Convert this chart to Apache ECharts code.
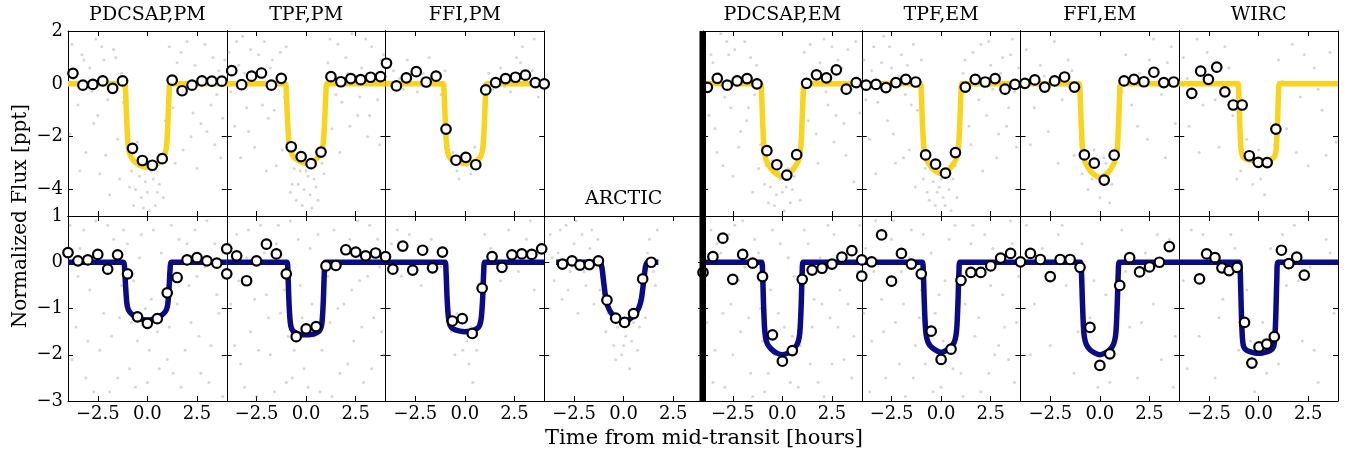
<!DOCTYPE html>
<html><head><meta charset="utf-8">
<script src="https://cdn.jsdelivr.net/npm/echarts@6/dist/echarts.min.js"></script>
<style>html,body{margin:0;padding:0;background:#fff}#c{width:1346px;height:456px}</style>
</head><body><div id="c"></div>
<script>
// ---------- tick labels / titles ----------
const xTicks = [-2.5, 0, 2.5];
const yTicksTop = [-4, -2, 0, 2];
const yTicksBot = [-3, -2, -1, 0, 1];
const titlesTop = ['PDCSAP,PM', 'TPF,PM', 'FFI,PM', '', 'PDCSAP,EM', 'TPF,EM', 'FFI,EM', 'WIRC'];
const titleArctic = 'ARCTIC';
const xAxisTitle = 'Time from mid-transit [hours]';
const yAxisTitle = 'Normalized Flux [ppt]';

// ---------- binned points (open circles) ----------
const binX_pm16 = [-3.75,-3.25,-2.75,-2.25,-1.75,-1.25,-0.75,-0.25,0.25,0.75,1.25,1.75,2.25,2.75,3.25,3.75];
const binX_ffiPMtop = [-3.95,-3.45,-2.95,-2.45,-1.95,-1.45,-0.95,-0.45,0.05,0.55,1.05,1.55,2.05,2.55,3.05,3.55,4.0];
const binX_em16 = [-3.78,-3.28,-2.78,-2.28,-1.78,-1.28,-0.78,-0.28,0.22,0.72,1.22,1.72,2.22,2.72,3.22,3.72];
const binX_wircTop = [-3.37,-2.92,-2.53,-2.11,-1.70,-1.28,-0.83,-0.47,-0.02,0.43,0.87];
const binX_17 = [-4,-3.5,-3,-2.5,-2,-1.5,-1,-0.5,0,0.5,1,1.5,2,2.5,3,3.5,4];
const binX_ffiPMbot = [-3.63,-3.13,-2.63,-2.13,-1.63,-1.13,-0.63,-0.13,0.37,0.87,1.37,1.87,2.37,2.87,3.37,3.87];
const binX_arctic = [-3.08,-2.60,-2.20,-1.73,-1.27,-0.84,-0.40,0.05,0.50,0.96,1.39];
const binX_ffiEMbot = [-3.5,-3,-2.5,-2,-1.5,-1,-0.5,0,0.5,1,1.5,2,2.5,3,3.5];
const binX_wircBot = [-2.98,-2.62,-2.20,-1.85,-1.49,-1.09,-0.71,-0.34,0.02,0.41,0.79,1.15,1.52,1.92,2.30];

const binY_pdcsapPM_top = [0.40,-0.05,-0.02,0.11,-0.17,0.11,-2.44,-2.90,-3.08,-2.83,0.14,-0.26,-0.05,0.11,0.10,0.10];
const binY_tpfPM_top = [0.50,-0.03,0.29,0.41,-0.05,0.21,-2.38,-2.75,-3.02,-2.58,0.27,0.08,0.20,0.16,0.25,0.27];
const binY_ffiPM_top = [0.78,-0.08,0.23,0.46,0.07,0.29,-1.71,-2.89,-2.78,-3.06,-0.23,0.05,0.20,0.25,0.33,0.05,0.0];
const binY_pdcsapEM_top = [-0.13,0.21,-0.05,0.11,0.20,0.0,-2.53,-3.06,-3.45,-2.68,0.02,0.34,0.23,0.53,-0.20,0.05];
const binY_tpfEM_top = [-0.05,-0.02,-0.14,0.05,0.17,0.07,-2.69,-3.04,-3.38,-2.60,-0.12,0.17,0.07,0.20,-0.20,-0.02];
const binY_ffiEM_top = [0.02,0.15,-0.12,0.11,0.26,-0.12,-2.69,-3.00,-3.64,-2.70,0.11,0.17,0.08,0.44,0.05,0.07];
const binY_wirc_top = [-0.36,0.48,0.17,0.63,-0.30,-0.80,-0.80,-2.72,-2.97,-2.98,-1.71];

const binY_pdcsapPM_bot = [0.21,0.03,0.05,0.17,-0.15,0.16,-0.25,-1.18,-1.32,-1.22,-0.66,-0.33,0.05,0.10,0.03,-0.02,0.29];
const binY_tpfPM_bot = [-0.25,0.14,-0.40,0.03,0.39,0.18,-0.25,-1.61,-1.44,-1.39,-0.08,-0.07,0.27,0.22,0.14,0.20,0.12];
const binY_ffiPM_bot = [-0.15,0.35,-0.17,0.26,-0.12,0.22,-1.27,-1.22,-1.54,-0.56,0.12,-0.11,0.16,0.18,0.17,0.29];
const binY_arctic = [-0.04,0.03,-0.06,-0.05,0.03,-0.82,-1.21,-1.30,-1.11,-0.36,0.00];
const binY_pdcsapEM_bot = [-0.22,0.12,0.52,-0.37,0.17,-0.02,-0.31,-1.57,-2.14,-1.91,-0.37,-0.17,-0.13,-0.04,0.11,0.25,0.05];
const binY_tpfEM_bot = [-0.30,0.01,0.59,-0.41,0.19,-0.04,-0.25,-1.49,-2.10,-1.88,-0.39,-0.22,-0.22,-0.08,0.09,0.19,0.01];
const binY_ffiEM_bot = [0.19,0.06,-0.31,0.06,0.06,-0.11,-1.41,-2.23,-1.98,-0.50,0.10,-0.21,-0.10,0.00,0.34];
const binY_wirc_bot = [-0.36,0.18,0.10,-0.12,-0.18,-0.11,-1.30,-2.18,-1.83,-1.77,-1.61,0.26,-0.03,0.11,-0.28];

// ---------- transit models ----------
const mX_pdcsapPM_top = [-4,-1.15,-1.1,-1.05,-1.0,-0.95,-0.85,-0.7,-0.5,-0.25,0,0.25,0.5,0.7,0.85,0.95,1.0,1.05,1.1,1.15,4];
const mY_pdcsapPM_top = [0,0,-0.3,-1.2,-2.0,-2.45,-2.72,-2.9,-3.03,-3.12,-3.15,-3.12,-3.03,-2.9,-2.72,-2.45,-2.0,-1.2,-0.3,0,0];
const mX_tpfPM_top = [-4,-1.05,-1.0,-0.95,-0.9,-0.85,-0.75,-0.6,-0.4,-0.2,0,0.2,0.4,0.6,0.75,0.85,0.9,0.95,1.0,1.05,4];
const mY_tpfPM_top = [0,0,-0.3,-1.15,-1.9,-2.33,-2.6,-2.78,-2.9,-2.97,-3.0,-2.97,-2.9,-2.78,-2.6,-2.33,-1.9,-1.15,-0.3,0,0];
const mX_ffiPM_top = [-4,-1.1,-1.05,-1.0,-0.95,-0.9,-0.8,-0.6,-0.3,0,0.3,0.6,0.8,0.9,0.95,1.0,1.05,1.1,4];
const mY_ffiPM_top = [0,0,-0.3,-1.2,-2.0,-2.45,-2.75,-2.9,-2.97,-3.0,-2.97,-2.9,-2.75,-2.45,-2.0,-1.2,-0.3,0,0];
const mX_pdcsapEM_top = [-4,-1.1,-1.05,-1.0,-0.95,-0.9,-0.8,-0.6,-0.4,-0.2,0,0.2,0.4,0.6,0.8,0.9,0.95,1.0,1.05,1.1,4];
const mY_pdcsapEM_top = [0,0,-0.35,-1.3,-2.15,-2.6,-2.92,-3.18,-3.35,-3.45,-3.5,-3.45,-3.35,-3.18,-2.92,-2.6,-2.15,-1.3,-0.35,0,0];
const mX_tpfEM_top = [-4,-1.05,-1.0,-0.95,-0.9,-0.85,-0.75,-0.55,-0.35,-0.15,0,0.15,0.35,0.55,0.75,0.85,0.9,0.95,1.0,1.05,4];
const mY_tpfEM_top = [0,0,-0.35,-1.3,-2.1,-2.55,-2.85,-3.1,-3.27,-3.36,-3.4,-3.36,-3.27,-3.1,-2.85,-2.55,-2.1,-1.3,-0.35,0,0];
const mX_ffiEM_top = [-4,-1.05,-1.0,-0.95,-0.9,-0.85,-0.75,-0.55,-0.35,-0.15,0,0.15,0.35,0.55,0.75,0.85,0.9,0.95,1.0,1.05,4];
const mY_ffiEM_top = [0,0,-0.35,-1.35,-2.2,-2.65,-2.95,-3.22,-3.4,-3.5,-3.55,-3.5,-3.4,-3.22,-2.95,-2.65,-2.2,-1.35,-0.35,0,0];
const mX_wirc_top = [-4,-1.05,-1.0,-0.95,-0.9,-0.85,-0.75,-0.5,0,0.5,0.75,0.85,0.9,0.95,1.0,1.05,4];
const mY_wirc_top = [0,0,-0.4,-1.5,-2.3,-2.65,-2.8,-2.88,-2.92,-2.88,-2.8,-2.65,-2.3,-1.5,-0.4,0,0];

const mX_pdcsapPM_bot = [-4,-1.2,-1.15,-1.1,-1.05,-1.0,-0.9,-0.7,-0.45,-0.2,0,0.2,0.45,0.7,0.9,1.0,1.05,1.1,1.15,1.2,4];
const mY_pdcsapPM_bot = [0,0,-0.12,-0.5,-0.82,-0.97,-1.07,-1.15,-1.21,-1.24,-1.25,-1.24,-1.21,-1.15,-1.07,-0.97,-0.82,-0.5,-0.12,0,0];
const mX_tpfPM_bot = [-4,-0.97,-0.92,-0.87,-0.82,-0.77,-0.67,-0.5,-0.3,0,0.3,0.5,0.67,0.77,0.82,0.87,0.92,0.97,4];
const mY_tpfPM_bot = [0,0,-0.2,-0.8,-1.2,-1.38,-1.48,-1.53,-1.56,-1.57,-1.56,-1.53,-1.48,-1.38,-1.2,-0.8,-0.2,0,0];
const mX_ffiPM_bot = [-4,-1.0,-0.95,-0.9,-0.85,-0.8,-0.7,-0.5,-0.25,0,0.25,0.5,0.7,0.8,0.85,0.9,0.95,1.0,4];
const mY_ffiPM_bot = [0,0,-0.2,-0.75,-1.1,-1.28,-1.4,-1.46,-1.49,-1.5,-1.49,-1.46,-1.4,-1.28,-1.1,-0.75,-0.2,0,0];
const mX_arctic = [-3.4,-1.2,-1.1,-1.0,-0.9,-0.8,-0.65,-0.45,-0.2,0,0.2,0.45,0.65,0.8,0.9,1.0,1.1,1.2,1.75];
const mY_arctic = [0,0,-0.1,-0.45,-0.78,-0.95,-1.08,-1.18,-1.26,-1.29,-1.26,-1.18,-1.08,-0.95,-0.78,-0.45,-0.1,0,0];
const mX_pdcsapEM_bot = [-4,-1.05,-1.0,-0.95,-0.9,-0.85,-0.75,-0.55,-0.3,0,0.3,0.55,0.75,0.85,0.9,0.95,1.0,1.05,4];
const mY_pdcsapEM_bot = [0,0,-0.2,-0.9,-1.4,-1.62,-1.77,-1.88,-1.96,-2.0,-1.96,-1.88,-1.77,-1.62,-1.4,-0.9,-0.2,0,0];
const mX_tpfEM_bot = [-4,-0.95,-0.9,-0.85,-0.8,-0.75,-0.65,-0.45,-0.2,0,0.2,0.45,0.65,0.75,0.8,0.85,0.9,0.95,4];
const mY_tpfEM_bot = [0,0,-0.2,-0.85,-1.35,-1.58,-1.74,-1.85,-1.92,-1.95,-1.92,-1.85,-1.74,-1.58,-1.35,-0.85,-0.2,0,0];
const mX_ffiEM_bot = [-4,-0.98,-0.93,-0.88,-0.83,-0.78,-0.68,-0.48,-0.22,0,0.22,0.48,0.68,0.78,0.83,0.88,0.93,0.98,4];
const mY_ffiEM_bot = [0,0,-0.2,-0.85,-1.38,-1.62,-1.78,-1.9,-1.97,-2.0,-1.97,-1.9,-1.78,-1.62,-1.38,-0.85,-0.2,0,0];
const mX_wirc_bot = [-4,-0.97,-0.92,-0.87,-0.82,-0.77,-0.67,-0.45,0,0.45,0.67,0.77,0.82,0.87,0.92,0.97,4];
const mY_wirc_bot = [0,0,-0.3,-1.1,-1.62,-1.8,-1.88,-1.93,-1.97,-1.93,-1.88,-1.8,-1.62,-1.1,-0.3,0,0];

// ---------- faint unbinned points (sparse estimate of the grey cloud) ----------
const bg_pdcsapPM_top = [[-3.8,1.5],[-3.5,-0.8],[-3.3,1.1],[-3.1,-2.6],[-2.9,0.6],[-2.7,-1.5],[-2.6,1.7],[-2.4,-3.4],[-2.2,0.9],[-2.0,-0.6],[-1.9,-4.2],[-1.7,1.3],[-1.5,-2.1],[-1.3,0.4],[-1.1,-1.2],[-0.9,-3.9],[-0.7,-4.6],[-0.5,-2.2],[-0.3,-4.3],[-0.1,-3.7],[0.1,-4.8],[0.3,-3.6],[0.5,-4.1],[0.7,-2.9],[0.9,-1.4],[1.1,1.4],[1.3,-0.9],[1.5,0.8],[1.8,-2.5],[2.0,1.6],[2.3,-1.1],[2.5,-3.2],[2.8,0.3],[3.0,-1.8],[3.3,1.0],[3.5,-0.4],[3.7,-2.8],[3.9,0.9],
  [-3.9,-1.9],[-3.7,0.2],[-3.4,-3.3],[-3.2,0.9],[-2.8,-0.3],[-2.5,-1.2],[-2.3,1.4],[-2.1,-2.7],[-1.8,-0.2],[-1.6,1.0],[-1.4,-3.6],[-1.2,-0.7],[-0.8,-3.3],[-0.6,-4.0],[-0.4,-3.5],[-0.2,-4.7],[0.0,-4.1],[0.2,-3.3],[0.4,-4.6],[0.6,-3.8],[0.8,-4.3],[1.0,-2.2],[1.2,0.3],[1.4,-3.0],[1.7,1.2],[1.9,-0.4],[2.2,-2.0],[2.4,0.7],[2.7,-1.5],[2.9,1.5],[3.2,-0.8],[3.4,-2.3],[3.6,0.5],[3.8,-1.3]];
const bg_tpfPM_top = [[-3.9,1.2],[-3.6,-1.6],[-3.4,0.7],[-3.2,1.8],[-3.0,-0.9],[-2.8,1.3],[-2.6,-2.4],[-2.3,0.5],[-2.1,1.6],[-1.9,-1.3],[-1.7,0.9],[-1.5,-3.1],[-1.3,1.2],[-1.1,-0.5],[-0.9,-2.2],[-0.7,-3.8],[-0.5,-4.4],[-0.3,-3.3],[-0.1,-4.0],[0.1,-3.5],[0.3,-4.7],[0.5,-3.9],[0.7,-2.6],[0.9,-3.4],[1.1,0.8],[1.3,-1.7],[1.6,1.5],[1.8,-0.7],[2.1,0.4],[2.3,1.9],[2.6,-1.2],[2.8,0.6],[3.1,-2.0],[3.3,1.4],[3.6,-0.6],[3.8,0.9],
  [-3.8,-0.3],[-3.5,1.6],[-3.3,-2.8],[-3.1,0.4],[-2.9,-1.8],[-2.7,0.2],[-2.4,1.1],[-2.2,-0.8],[-2.0,-3.3],[-1.8,0.6],[-1.6,-1.0],[-1.4,0.2],[-1.2,-2.5],[-1.0,1.4],[-0.8,-4.1],[-0.6,-3.2],[-0.4,-3.8],[-0.2,-4.6],[0.0,-3.3],[0.2,-4.2],[0.4,-3.6],[0.6,-4.4],[0.8,-3.0],[1.0,-1.1],[1.2,1.7],[1.5,-0.4],[1.7,-2.6],[2.0,1.0],[2.2,-1.6],[2.5,0.3],[2.7,-0.5],[3.0,1.7],[3.2,-1.2],[3.5,0.2],[3.7,-2.3],[3.9,1.1]];
const bg_ffiPM_top = [[-3.6,0.5],[-3.1,-0.2],[-2.9,0.9],[-2.4,-0.3],[-2.1,0.4],[-1.8,1.0],[-1.5,0.3],[-1.2,-0.4],[-0.6,-2.6],[-0.4,-3.3],[-0.2,-2.7],[0.1,-3.1],[0.3,-3.4],[0.5,-2.4],[1.4,-0.2],[1.8,0.6],[2.3,-0.3],[2.6,1.0],[2.9,1.4],[3.2,0.2],[3.5,1.7],[3.7,-0.5],
  [-3.3,0.2],[-2.6,0.6],[-1.9,-0.1],[-1.0,0.5],[-0.3,-3.6],[0.0,-2.6],[0.4,-3.0],[1.2,0.4],[2.0,-0.1],[2.8,0.8],[3.4,0.5]];
const bg_pdcsapEM_top = [[-3.9,1.5],[-3.7,-1.2],[-3.5,0.8],[-3.3,-2.6],[-3.1,1.9],[-2.9,-0.5],[-2.7,1.1],[-2.5,-3.5],[-2.3,0.3],[-2.1,-1.8],[-1.9,1.6],[-1.7,-0.9],[-1.5,-4.1],[-1.3,0.7],[-1.1,-2.3],[-0.9,-3.8],[-0.7,-4.5],[-0.5,-2.9],[-0.3,-4.2],[-0.1,-3.6],[0.1,-4.8],[0.3,-3.2],[0.5,-4.0],[0.7,-2.7],[0.9,-4.4],[1.1,1.2],[1.3,-1.4],[1.6,0.5],[1.8,-3.0],[2.1,1.7],[2.3,-0.8],[2.6,-2.2],[2.8,0.9],[3.1,-1.5],[3.3,1.3],[3.6,-3.7],[3.8,0.2],
  [-3.8,-0.2],[-3.6,1.1],[-3.4,-1.7],[-3.2,0.4],[-3.0,-3.1],[-2.8,1.6],[-2.6,-0.9],[-2.4,1.3],[-2.2,-2.4],[-2.0,0.2],[-1.8,-1.4],[-1.6,1.0],[-1.4,-0.4],[-1.2,-3.2],[-0.8,-3.1],[-0.6,-3.9],[-0.4,-4.6],[-0.2,-3.3],[0.0,-4.1],[0.2,-3.9],[0.4,-4.5],[0.6,-3.5],[0.8,-2.9],[1.0,-0.6],[1.4,1.5],[1.7,-1.9],[1.9,0.8],[2.2,-0.3],[2.5,1.4],[2.7,-1.2],[3.0,0.6],[3.2,-2.7],[3.5,-0.2],[3.7,1.6],[3.9,-1.1]];
const bg_tpfEM_top = [[-3.9,0.9],[-3.6,-2.1],[-3.4,1.4],[-3.2,-0.7],[-2.9,1.8],[-2.7,-1.4],[-2.5,0.6],[-2.3,-3.0],[-2.0,1.1],[-1.8,-0.4],[-1.6,-2.5],[-1.4,1.5],[-1.2,-1.0],[-0.9,-3.6],[-0.7,-4.1],[-0.5,-3.0],[-0.3,-4.6],[-0.1,-3.9],[0.1,-4.3],[0.3,-3.4],[0.5,-4.8],[0.7,-3.1],[0.9,-2.0],[1.1,0.4],[1.4,-1.6],[1.6,1.2],[1.9,-0.6],[2.1,-3.3],[2.4,1.6],[2.6,-0.2],[2.9,-1.9],[3.1,1.0],[3.4,-0.9],[3.6,1.7],[3.8,-2.4],
  [-3.8,-0.6],[-3.5,0.5],[-3.3,-3.4],[-3.0,0.8],[-2.8,-0.2],[-2.6,1.4],[-2.4,-1.9],[-2.1,0.3],[-1.9,-2.8],[-1.7,0.7],[-1.5,-0.8],[-1.3,-3.9],[-1.0,0.9],[-0.8,-3.2],[-0.6,-4.4],[-0.4,-3.7],[-0.2,-4.1],[0.0,-3.6],[0.2,-4.6],[0.4,-4.0],[0.6,-3.6],[0.8,-4.3],[1.0,-1.3],[1.2,0.9],[1.5,-2.3],[1.8,0.1],[2.0,1.5],[2.3,-1.2],[2.5,0.7],[2.8,-2.8],[3.0,0.4],[3.3,-1.6],[3.5,1.1],[3.7,-0.3],[3.9,0.6]];
const bg_ffiEM_top = [[-3.7,1.3],[-3.3,-0.9],[-3.0,0.7],[-2.6,-1.8],[-2.3,1.6],[-1.9,-0.6],[-1.6,0.9],[-1.3,-2.7],[-0.9,-3.4],[-0.6,-4.0],[-0.3,-2.5],[0.0,-4.3],[0.3,-3.0],[0.6,-3.8],[0.9,-1.2],[1.3,1.1],[1.6,-0.8],[2.0,0.4],[2.4,-2.1],[2.7,1.7],[3.1,-0.4],[3.4,0.8],[3.8,-1.5],
  [-3.5,-2.3],[-2.8,0.3],[-2.1,-3.0],[-1.4,0.5],[-0.8,-2.9],[-0.4,-3.6],[0.2,-2.8],[0.5,-4.5],[1.1,-0.3],[1.9,-1.6],[2.5,0.9],[3.3,-2.8],[3.6,1.4]];
const bg_wirc_top = [[-3.8,1.0],[-3.5,-1.6],[-3.1,1.7],[-2.8,-0.8],[-2.4,0.3],[-2.0,-2.4],[-1.7,1.4],[-1.3,-1.2],[-0.9,-3.3],[-0.6,-2.1],[-0.3,-3.8],[0.0,-2.5],[0.3,-4.2],[0.6,-3.0],[1.0,0.9],[1.4,-1.7],[1.7,1.5],[2.1,-0.5],[2.5,-3.1],[2.8,0.6],[3.2,-1.0],[3.6,1.2],[3.9,-2.2],
  [-3.6,0.2],[-3.0,-2.6],[-2.6,1.2],[-2.2,-0.6],[-1.5,0.6],[-1.1,-3.6],[-0.4,-2.8],[0.1,-3.6],[0.8,-2.3],[1.2,0.1],[1.9,-2.6],[2.3,1.1],[3.0,-0.2],[3.4,-2.7]];
const bg_pdcsapPM_bot = [[-3.9,0.8],[-3.6,-1.4],[-3.4,0.3],[-3.1,-2.5],[-2.9,-0.6],[-2.6,0.9],[-2.4,-1.9],[-2.1,-0.2],[-1.9,-2.8],[-1.7,0.5],[-1.4,-1.2],[-1.2,0.7],[-0.9,-2.3],[-0.7,-0.4],[-0.5,-1.7],[-0.3,0.6],[0.0,-2.6],[0.2,-0.8],[0.5,-1.5],[0.7,0.2],[1.0,-2.1],[1.2,0.8],[1.5,-0.9],[1.7,-2.7],[2.0,0.4],[2.2,-1.3],[2.5,-0.3],[2.7,-2.4],[3.0,0.9],[3.2,-1.8],[3.5,-0.7],[3.8,-2.9],
  [-3.8,-2.1],[-3.5,-0.3],[-3.2,0.7],[-3.0,-1.7],[-2.7,-2.8],[-2.5,0.1],[-2.2,-1.1],[-2.0,0.8],[-1.8,-1.6],[-1.5,-2.5],[-1.3,-0.5],[-1.0,0.4],[-0.8,-1.3],[-0.6,-2.7],[-0.4,0.1],[-0.1,-1.0],[0.1,-1.9],[0.3,0.7],[0.6,-2.3],[0.8,-0.6],[1.1,-1.4],[1.3,-2.4],[1.6,0.5],[1.9,-1.9],[2.1,-0.5],[2.4,0.7],[2.6,-1.6],[2.9,-0.1],[3.1,-2.6],[3.4,0.4],[3.6,-1.1],[3.9,-0.2]];
const bg_tpfPM_bot = [[-3.8,-0.9],[-3.5,0.6],[-3.3,-2.2],[-3.0,0.1],[-2.8,-1.5],[-2.5,-2.9],[-2.3,0.8],[-2.0,-0.7],[-1.8,-2.0],[-1.5,0.4],[-1.3,-1.1],[-1.0,-2.6],[-0.8,0.9],[-0.6,-1.9],[-0.3,-0.5],[-0.1,-2.3],[0.2,0.3],[0.4,-1.6],[0.7,-2.8],[0.9,-0.2],[1.2,-1.3],[1.4,0.7],[1.7,-2.4],[1.9,-0.9],[2.2,0.5],[2.4,-1.7],[2.7,-0.4],[2.9,-2.6],[3.2,0.8],[3.4,-1.2],[3.7,-0.1],[3.9,-2.0],
  [-3.9,0.4],[-3.6,-1.8],[-3.4,-0.4],[-3.1,-2.7],[-2.9,0.7],[-2.6,-0.8],[-2.4,-1.9],[-2.1,0.2],[-1.9,-1.2],[-1.6,-2.8],[-1.4,0.8],[-1.1,-0.6],[-0.9,-1.6],[-0.7,-2.5],[-0.4,0.5],[-0.2,-1.2],[0.1,-2.7],[0.3,-0.9],[0.6,0.6],[0.8,-1.9],[1.1,-0.3],[1.3,-2.9],[1.6,-1.0],[1.8,0.3],[2.1,-2.2],[2.3,-0.6],[2.6,0.9],[2.8,-1.4],[3.1,-0.3],[3.3,-2.3],[3.6,0.5],[3.8,-1.5]];
const bg_ffiPM_bot = [[-3.7,0.4],[-3.2,-0.3],[-2.8,0.6],[-2.2,-0.5],[-1.7,0.5],[-1.2,-0.1],[-0.7,-1.5],[-0.4,-1.1],[-0.1,-1.9],[0.1,-1.7],[0.2,-2.2],[0.3,-1.4],[0.6,-1.9],[1.3,0.3],[1.8,-0.4],[2.2,0.7],[2.7,-0.2],[3.1,0.5],[3.5,-0.6],[3.8,0.4],
  [-3.4,0.7],[-2.5,-0.2],[-1.9,0.3],[-0.5,-2.0],[0.0,-1.3],[0.4,-2.6],[1.0,0.6],[2.4,0.2],[3.3,0.9]];
const bg_arctic = [[-3.7,0.6],[-3.5,-0.4],[-3.3,0.2],[-3.1,-0.8],[-2.9,0.8],[-2.7,-0.2],[-2.5,0.4],[-2.3,-1.1],[-2.1,0.6],[-1.9,-0.5],[-1.7,0.3],[-1.5,-0.9],[-1.3,0.5],[-1.1,-0.3],[-0.9,-1.5],[-0.7,-0.9],[-0.5,-1.8],[-0.3,-1.4],[-0.1,-2.0],[0.1,-1.6],[0.3,-2.3],[0.5,-1.3],[0.7,-1.9],[0.9,-0.7],[1.1,-1.2],[1.3,0.5],[1.5,-0.2],[1.7,0.7],
  [-3.6,0.1],[-3.2,0.7],[-2.8,-0.6],[-2.4,0.9],[-2.0,-0.2],[-1.6,0.7],[-1.2,-0.6],[-0.8,-1.1],[-0.4,-2.1],[0.0,-1.8],[0.4,-1.7],[0.8,-1.4],[1.2,0.2],[1.6,-0.5]];
const bg_pdcsapEM_bot = [[-3.9,-0.5],[-3.6,0.7],[-3.4,-1.9],[-3.1,0.2],[-2.9,-2.7],[-2.6,-0.9],[-2.4,0.8],[-2.1,-1.5],[-1.9,-0.1],[-1.6,-2.4],[-1.4,0.5],[-1.1,-1.0],[-0.9,-2.8],[-0.6,-0.6],[-0.4,-2.0],[-0.1,0.4],[0.1,-1.4],[0.4,-2.6],[0.6,-0.3],[0.9,-1.8],[1.1,0.7],[1.4,-2.2],[1.6,-0.8],[1.9,0.1],[2.1,-2.9],[2.4,-1.2],[2.6,0.6],[2.9,-0.6],[3.1,-2.1],[3.4,0.3],[3.6,-1.6],[3.9,0.8],
  [-3.8,-1.3],[-3.5,-2.6],[-3.3,0.4],[-3.0,-1.1],[-2.7,0.6],[-2.5,-2.0],[-2.2,-0.4],[-2.0,0.9],[-1.7,-1.2],[-1.5,-2.9],[-1.2,0.2],[-1.0,-1.7],[-0.7,-2.4],[-0.5,0.7],[-0.2,-1.1],[0.0,-2.2],[0.3,0.1],[0.5,-1.6],[0.8,-2.7],[1.0,-0.6],[1.3,0.4],[1.5,-1.4],[1.8,-2.6],[2.0,-0.9],[2.3,0.8],[2.5,-2.2],[2.8,-1.4],[3.0,0.2],[3.3,-0.9],[3.5,-2.5],[3.8,-0.2]];
const bg_tpfEM_bot = [[-3.8,0.3],[-3.5,-1.7],[-3.3,0.9],[-3.0,-0.8],[-2.8,-2.5],[-2.5,0.5],[-2.3,-1.3],[-2.0,-0.2],[-1.8,-2.9],[-1.5,0.7],[-1.3,-1.8],[-1.0,-0.6],[-0.8,-2.2],[-0.5,0.2],[-0.3,-1.1],[0.0,-2.7],[0.2,-0.4],[0.5,-1.9],[0.7,0.8],[1.0,-2.4],[1.2,-0.9],[1.5,0.4],[1.7,-1.6],[2.0,-2.8],[2.2,0.6],[2.5,-0.5],[2.7,-2.0],[3.0,0.1],[3.2,-1.4],[3.5,0.9],[3.7,-2.6],[3.9,-0.3],
  [-3.9,-1.1],[-3.6,-2.8],[-3.4,-0.2],[-3.1,0.6],[-2.9,-1.5],[-2.6,-0.4],[-2.4,0.9],[-2.1,-2.2],[-1.9,-0.9],[-1.6,0.1],[-1.4,-2.5],[-1.1,-1.2],[-0.9,0.6],[-0.6,-1.6],[-0.4,-2.8],[-0.1,-0.7],[0.1,-1.7],[0.4,0.5],[0.6,-2.3],[0.9,-1.1],[1.1,-2.9],[1.4,-0.3],[1.6,0.8],[1.9,-1.2],[2.1,-0.1],[2.4,-2.4],[2.6,0.3],[2.9,-1.8],[3.1,-0.7],[3.4,-2.1],[3.6,0.4],[3.8,-1.3]];
const bg_ffiEM_bot = [[-3.7,0.8],[-3.3,-0.9],[-2.9,0.3],[-2.5,-1.8],[-2.1,0.6],[-1.7,-0.5],[-1.3,-2.4],[-0.9,0.4],[-0.5,-1.2],[-0.1,-2.7],[0.3,-0.7],[0.7,-1.9],[1.1,0.7],[1.5,-1.4],[1.9,-2.5],[2.3,0.2],[2.7,-0.9],[3.1,-2.1],[3.5,0.5],[3.8,-1.6],
  [-3.5,-2.0],[-2.7,-0.3],[-1.9,0.8],[-1.1,-1.5],[-0.3,-0.4],[0.5,-2.6],[1.3,-0.2],[2.1,-1.3],[2.9,0.6],[3.7,-2.7]];
const bg_wirc_bot = [[-3.8,-0.4],[-3.4,0.7],[-3.0,-1.6],[-2.6,0.2],[-2.2,-2.5],[-1.8,-0.8],[-1.4,0.6],[-1.0,-1.9],[-0.6,-0.6],[-0.2,-2.8],[0.2,-1.3],[0.6,0.3],[1.0,-2.2],[1.4,-0.5],[1.8,0.8],[2.2,-1.7],[2.6,-0.1],[3.0,-2.6],[3.4,0.5],[3.8,-1.1],
  [-3.6,-2.3],[-2.8,0.6],[-2.0,-1.2],[-1.2,0.3],[-0.4,-1.7],[0.4,-2.4],[1.2,0.6],[2.0,-0.4],[2.8,-1.9],[3.6,0.2]];

// ---------- assemble ----------
const YELLOW = '#f9d31c', NAVY = '#0b0b86';
const FONT = 'DejaVu Serif';
const L0 = 68, PW = 158.75, T0 = 31, PH = 185;

const panels = [
  {row:0,col:0,bx:binX_pm16,by:binY_pdcsapPM_top,mx:mX_pdcsapPM_top,my:mY_pdcsapPM_top,bg:bg_pdcsapPM_top,c:YELLOW},
  {row:0,col:1,bx:binX_pm16,by:binY_tpfPM_top,mx:mX_tpfPM_top,my:mY_tpfPM_top,bg:bg_tpfPM_top,c:YELLOW},
  {row:0,col:2,bx:binX_ffiPMtop,by:binY_ffiPM_top,mx:mX_ffiPM_top,my:mY_ffiPM_top,bg:bg_ffiPM_top,c:YELLOW},
  {row:0,col:4,bx:binX_em16,by:binY_pdcsapEM_top,mx:mX_pdcsapEM_top,my:mY_pdcsapEM_top,bg:bg_pdcsapEM_top,c:YELLOW},
  {row:0,col:5,bx:binX_em16,by:binY_tpfEM_top,mx:mX_tpfEM_top,my:mY_tpfEM_top,bg:bg_tpfEM_top,c:YELLOW},
  {row:0,col:6,bx:binX_em16,by:binY_ffiEM_top,mx:mX_ffiEM_top,my:mY_ffiEM_top,bg:bg_ffiEM_top,c:YELLOW},
  {row:0,col:7,bx:binX_wircTop,by:binY_wirc_top,mx:mX_wirc_top,my:mY_wirc_top,bg:bg_wirc_top,c:YELLOW},
  {row:1,col:0,bx:binX_17,by:binY_pdcsapPM_bot,mx:mX_pdcsapPM_bot,my:mY_pdcsapPM_bot,bg:bg_pdcsapPM_bot,c:NAVY},
  {row:1,col:1,bx:binX_17,by:binY_tpfPM_bot,mx:mX_tpfPM_bot,my:mY_tpfPM_bot,bg:bg_tpfPM_bot,c:NAVY},
  {row:1,col:2,bx:binX_ffiPMbot,by:binY_ffiPM_bot,mx:mX_ffiPM_bot,my:mY_ffiPM_bot,bg:bg_ffiPM_bot,c:NAVY},
  {row:1,col:3,bx:binX_arctic,by:binY_arctic,mx:mX_arctic,my:mY_arctic,bg:bg_arctic,c:NAVY},
  {row:1,col:4,bx:binX_17,by:binY_pdcsapEM_bot,mx:mX_pdcsapEM_bot,my:mY_pdcsapEM_bot,bg:bg_pdcsapEM_bot,c:NAVY},
  {row:1,col:5,bx:binX_17,by:binY_tpfEM_bot,mx:mX_tpfEM_bot,my:mY_tpfEM_bot,bg:bg_tpfEM_bot,c:NAVY},
  {row:1,col:6,bx:binX_ffiEMbot,by:binY_ffiEM_bot,mx:mX_ffiEM_bot,my:mY_ffiEM_bot,bg:bg_ffiEM_bot,c:NAVY},
  {row:1,col:7,bx:binX_wircBot,by:binY_wirc_bot,mx:mX_wirc_bot,my:mY_wirc_bot,bg:bg_wirc_bot,c:NAVY}
];

const minus = s => String(s).replace('-', '\u2212');
const fmtX = v => minus(Number(v).toFixed(1));
const fmtY = v => minus(Math.round(v));

const grids = [], xAxes = [], yAxes = [], series = [], titles = [];
const axLine = {show:true, onZero:false, lineStyle:{color:'#000', width:1}};
panels.forEach((p, i) => {
  const left = L0 + PW * p.col;
  const top = T0 + PH * p.row;
  grids.push({left: left, top: top, width: PW, height: PH, containLabel: false});
  const yMin = p.row === 0 ? -5 : -3, yMax = p.row === 0 ? 2 : 1;
  const yT = p.row === 0 ? yTicksTop : yTicksBot;
  ['bottom','top'].forEach(pos => xAxes.push({
    type:'value', gridIndex:i, position:pos, min:-4, max:4,
    axisLine: axLine,
    axisTick:{show:true, inside:true, length:5, customValues:xTicks, lineStyle:{color:'#000', width:1}},
    axisLabel:{show: pos === 'bottom' && p.row === 1, customValues:xTicks, formatter:fmtX,
      fontFamily:FONT, fontSize:18, color:'#000', margin:4},
    splitLine:{show:false}
  }));
  ['left','right'].forEach(pos => yAxes.push({
    type:'value', gridIndex:i, position:pos, min:yMin, max:yMax,
    axisLine: axLine,
    axisTick:{show:true, inside:true, length:5, customValues:yT, lineStyle:{color:'#000', width:1}},
    axisLabel:{show: pos === 'left' && p.col === 0, customValues:yT, formatter:fmtY,
      fontFamily:FONT, fontSize:18, color:'#000', margin:5},
    splitLine:{show:false}
  }));
  series.push({type:'scatter', xAxisIndex:2*i, yAxisIndex:2*i, data:p.bg, symbolSize:3,
    itemStyle:{color:'#8a8a8a', opacity:0.35}, silent:true, z:1});
  series.push({type:'line', xAxisIndex:2*i, yAxisIndex:2*i, data:p.mx.map((x,k)=>[x,p.my[k]]),
    symbol:'none', smooth:0.25, lineStyle:{color:p.c, width:5.5, opacity:1}, silent:true, z:2});
  series.push({type:'scatter', xAxisIndex:2*i, yAxisIndex:2*i, data:p.bx.map((x,k)=>[x,p.by[k]]),
    symbol:'circle', symbolSize:9.5, itemStyle:{color:'#fff', borderColor:'#000', borderWidth:2.2, opacity:1}, z:3});
  const t = p.row === 0 ? titlesTop[p.col] : (p.col === 3 ? titleArctic : '');
  if (t) titles.push({text:t, left: left + PW/2, top: p.row === 0 ? 5.5 : 190, textAlign:'center', padding:0,
    textStyle:{fontFamily:FONT, fontSize:19, fontWeight:'normal', color:'#000'}});
});

const chart = echarts.init(document.getElementById('c'), null, {renderer:'canvas'});
chart.setOption({
  animation:false,
  backgroundColor:'#fff',
  title: titles,
  grid: grids, xAxis: xAxes, yAxis: yAxes, series: series,
  graphic: [
    {type:'rect', shape:{x:699.5, y:31, width:6.5, height:370}, style:{fill:'#000'}, z:100, silent:true},
    {type:'text', x:21, y:216, rotation:Math.PI/2, silent:true,
      style:{text:yAxisTitle, font:'20px "DejaVu Serif"', fill:'#000', textAlign:'center', textVerticalAlign:'middle', align:'center', verticalAlign:'middle'}},
    {type:'text', x:704, y:439, silent:true,
      style:{text:xAxisTitle, font:'21px "DejaVu Serif"', fill:'#000', textAlign:'center', textVerticalAlign:'middle', align:'center', verticalAlign:'middle'}}
  ]
});
</script></body></html>
